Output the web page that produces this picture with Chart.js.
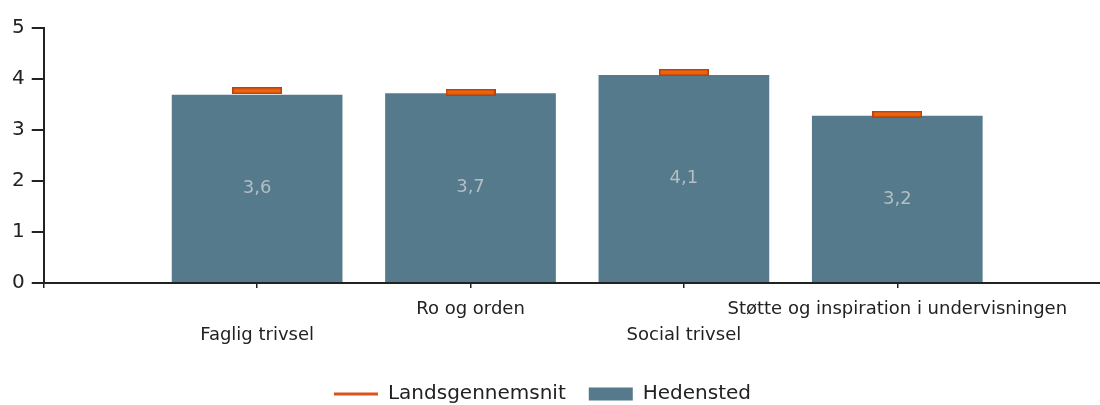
<!DOCTYPE html>
<html>
<head>
<meta charset="utf-8">
<script src="https://cdn.jsdelivr.net/npm/chart.js@4.4.1/dist/chart.umd.min.js"></script>
<style>
  html, body { margin: 0; padding: 0; background: #fff; }
  #wrap { width: 1100px; height: 405px; }
</style>
</head>
<body>
<div id="wrap"><canvas id="myChart"></canvas></div>
<script>
// categories on the x axis
const categories = ['Faglig trivsel', 'Ro og orden', 'Social trivsel', 'Støtte og inspiration i undervisningen']
// Hedensted bars, as drawn
const hedensted = [3.69, 3.72, 4.08, 3.28]
// the text printed inside each bar
const hedenstedLabels = ['3,6', '3,7', '4,1', '3,2']
// national average markers
const landsgennemsnit = [3.77, 3.74, 4.13, 3.31]
const yTicks = [0, 1, 2, 3, 4, 5]

const FONT = 'DejaVu Sans'
const TEXT = '#222'
const BAR = '#547a8b'
const ORANGE = '#ec6410'
const ORANGE_DARK = '#b8420c'

// little orange bar used as the point style for the average
const marker = document.createElement('canvas')
marker.width = 50
marker.height = 7
const mctx = marker.getContext('2d')
mctx.fillStyle = ORANGE
mctx.fillRect(0, 0, 50, 7)
mctx.strokeStyle = ORANGE_DARK
mctx.lineWidth = 1.5
mctx.strokeRect(0.75, 0.75, 48.5, 5.5)

const barLabels = {
  id: 'barLabels',
  afterDatasetsDraw(chart) {
    const meta = chart.getDatasetMeta(1)
    const ctx = chart.ctx
    ctx.save()
    ctx.font = '18px "' + FONT + '"'
    ctx.fillStyle = '#b3bec5'
    ctx.textAlign = 'center'
    ctx.textBaseline = 'middle'
    meta.data.forEach((bar, i) => {
      ctx.fillText(hedenstedLabels[i], bar.x, (bar.y + bar.base) / 2)
    })
    ctx.restore()
  }
}

// nudge the legend a bit to the left, like the original
const legendShift = {
  id: 'legendShift',
  afterLayout(chart) {
    chart.legend.left -= 10
    chart.legend.right -= 10
  }
}

var ctx = document.getElementById('myChart').getContext('2d')
var chart = new Chart(ctx, {
  type: 'bar',
  data: {
    datasets: [{
      type: 'line',
      label: 'Landsgennemsnit',
      data: landsgennemsnit.map((v, i) => ({ x: i, y: v })),
      showLine: false,
      pointStyle: marker,
      pointRadius: 5,
      borderColor: ORANGE,
      backgroundColor: ORANGE
    }, {
      label: 'Hedensted',
      data: hedensted.map((v, i) => ({ x: i, y: v })),
      backgroundColor: BAR,
      borderWidth: 0,
      categoryPercentage: 0.8,
      barPercentage: 1.0
    }]
  },
  options: {
    responsive: true,
    maintainAspectRatio: false,
    animation: false,
    layout: { autoPadding: false, padding: { left: 5, right: 0, top: 28, bottom: -9 } },
    scales: {
      x: {
        type: 'linear',
        min: -1,
        max: 3.95,
        offset: false,
        border: { display: true, color: TEXT, width: 2 },
        grid: { offset: false, drawOnChartArea: false, color: TEXT, lineWidth: 1.5, tickLength: 5 },
        ticks: {
          stepSize: 1,
          includeBounds: false,
          autoSkip: false,
          maxRotation: 0,
          minRotation: 0,
          padding: 8,
          color: TEXT,
          font: { family: FONT, size: 18, lineHeight: 1.45 },
          callback: (v) => {
            const name = categories[v]
            if (name === undefined) return ''
            // alternate labels are pushed down one line
            return v % 2 === 0 ? ['', name] : name
          }
        }
      },
      y: {
        min: 0,
        max: 5,
        border: { display: true, color: TEXT, width: 2 },
        grid: { drawOnChartArea: false, color: TEXT, lineWidth: 2, tickLength: 12 },
        afterBuildTicks: axis => { axis.ticks = yTicks.map(v => ({ value: v })) },
        ticks: {
          padding: 7,
          color: TEXT,
          font: { family: FONT, size: 20 }
        }
      }
    },
    plugins: {
      tooltip: { enabled: false },
      legend: {
        position: 'bottom',
        title: { display: true, text: '', font: { size: 4 }, padding: 0 },
        labels: {
          usePointStyle: true,
          pointStyleWidth: 44,
          boxHeight: 13,
          padding: 23,
          color: TEXT,
          font: { family: FONT, size: 20 },
          generateLabels: (c) => [
            { text: 'Landsgennemsnit', datasetIndex: 0, pointStyle: 'line', strokeStyle: '#d9541a', fillStyle: '#d9541a', lineWidth: 3, hidden: false, fontColor: TEXT },
            { text: 'Hedensted', datasetIndex: 1, pointStyle: 'rect', strokeStyle: BAR, fillStyle: BAR, lineWidth: 0, hidden: false, fontColor: TEXT }
          ]
        }
      }
    }
  },
  plugins: [barLabels, legendShift]
})
</script>
</body>
</html>
